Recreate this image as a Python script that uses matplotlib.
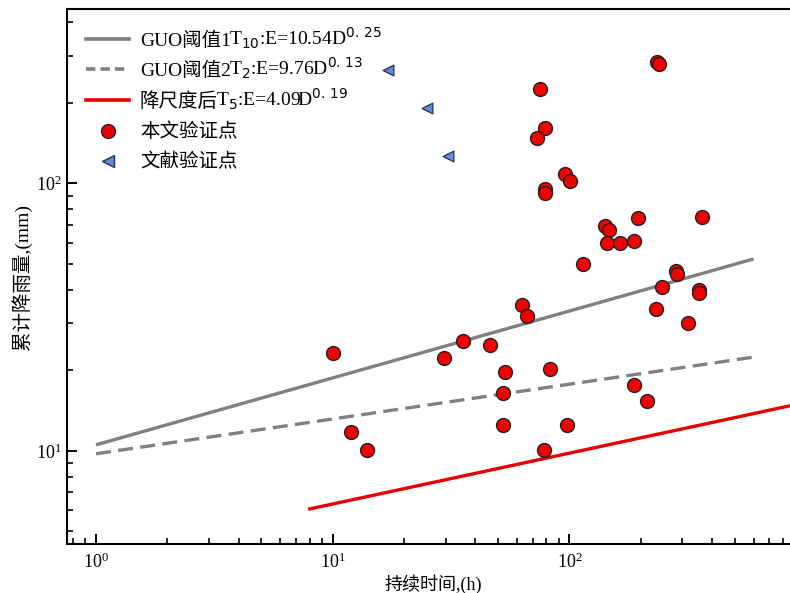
import numpy as np
import matplotlib
matplotlib.use("Agg")
import matplotlib.pyplot as plt
from matplotlib.lines import Line2D

plt.rcParams['font.family'] = ['Liberation Serif', 'Noto Sans CJK SC', 'DejaVu Sans']
plt.rcParams['mathtext.fontset'] = 'stix'

# Data: this study's validation points (duration h, rainfall mm)
own_x = [235, 240, 75, 79, 73, 95.5, 101, 79, 79, 142, 147, 194, 364, 144, 164, 188,
         114, 282, 286, 245, 352, 352, 232, 316, 63, 66, 10, 35.5, 29.6, 46.3, 53.3,
         83, 52.4, 188, 212, 11.9, 13.9, 52.4, 97.7, 78]
own_y = [285, 278, 225, 161, 148, 108, 102, 95, 92, 69, 67, 74.4, 75, 60, 60, 61,
         50, 47, 46, 41, 40, 39, 34, 30, 35, 32, 23.3, 25.8, 22.2, 24.8, 19.7,
         20.2, 16.5, 17.6, 15.4, 11.8, 10.1, 12.5, 12.5, 10.1]
# Literature validation points
lit_x = [17.2, 24.9, 30.8]
lit_y = [264, 191, 126.5]

# Threshold curves E = a * D^b
guo1_a, guo1_b = 10.54, 0.25
guo2_a, guo2_b = 9.76, 0.13
t5_a, t5_b = 4.09, 0.19
guo_range = [1, 600]
t5_range = [8, 1000]

label_cjk = ["GUO阈值1", "GUO阈值2", "降尺度后", "本文验证点", "文献验证点"]
label_math = ["T$_{10}$:E=10.54D$^{0.\\,25}$",
              "T$_{2}$:E=9.76D$^{0.\\,13}$",
              "T$_{5}$:E=4.09D$^{0.\\,19}$",
              "", ""]

W, H = 790, 593
fig = plt.figure(figsize=(W/100, H/100), dpi=100)
ax = fig.add_axes([67/W, 1-544/H, 733/W, 535/H])
ax.set_xscale('log')
ax.set_yscale('log')

dash = (0, (4.5, 2.2))
d1 = np.logspace(np.log10(guo_range[0]), np.log10(guo_range[1]), 100)
d2 = np.logspace(np.log10(t5_range[0]), np.log10(t5_range[1]), 100)
ax.plot(d1, guo1_a * d1**guo1_b, color='#808080', lw=2.4, solid_capstyle='butt', zorder=2)
ax.plot(d1, guo2_a * d1**guo2_b, color='#808080', lw=2.4, ls=dash, zorder=2)
ax.plot(d2, t5_a * d2**t5_b, color='#e80000', lw=2.4, zorder=2)
ax.scatter(own_x, own_y, s=100, c='#f00000', edgecolors='#222222', linewidths=1.0, zorder=3)
ax.scatter(lit_x, lit_y, s=60, marker='<', c='#6688d8', edgecolors='#223355', linewidths=0.9, zorder=3)

ax.set_xlim(0.754, 942)
ax.set_ylim(4.49, 448)

for s in ax.spines.values():
    s.set_linewidth(1.5)
ax.tick_params(which='major', direction='in', length=7, width=1.4, labelsize=13,
               top=False, right=False)
ax.tick_params(which='minor', direction='in', length=4, width=1.2, top=False, right=False)
ax.tick_params(axis='x', pad=6)

ax.set_xlabel("持续时间,(h)", fontsize=13, labelpad=2)
ax.set_ylabel("累计降雨量,(mm)", fontsize=14, labelpad=3)

handles = [Line2D([], [], color='#808080', lw=2.6),
           Line2D([], [], color='#808080', lw=2.6, ls=(0, (2.6, 1.4))),
           Line2D([], [], color='#e80000', lw=2.6),
           Line2D([], [], ls='none', marker='o', ms=10, mfc='#f00000', mec='#222222'),
           Line2D([], [], ls='none', marker='<', ms=8, mfc='#6688d8', mec='#223355')]
leg = ax.legend(handles, label_cjk, loc='upper left', frameon=False, fontsize=14,
                handlelength=2.2, handletextpad=0.55, labelspacing=0.62,
                bbox_to_anchor=(0.0, 0.994), borderaxespad=0.6)

fig.canvas.draw()
renderer = fig.canvas.get_renderer()
for t, m in zip(leg.get_texts(), label_math):
    if not m:
        continue
    bb = t.get_window_extent(renderer)
    bx, by = t.get_transform().transform(t.get_unitless_position())
    fig.text((bb.x1 - 2) / W, by / H, m, fontsize=14, ha='left', va='baseline',
             family='Liberation Serif', math_fontfamily='dejavusans')

fig.savefig("out.png", dpi=100)
